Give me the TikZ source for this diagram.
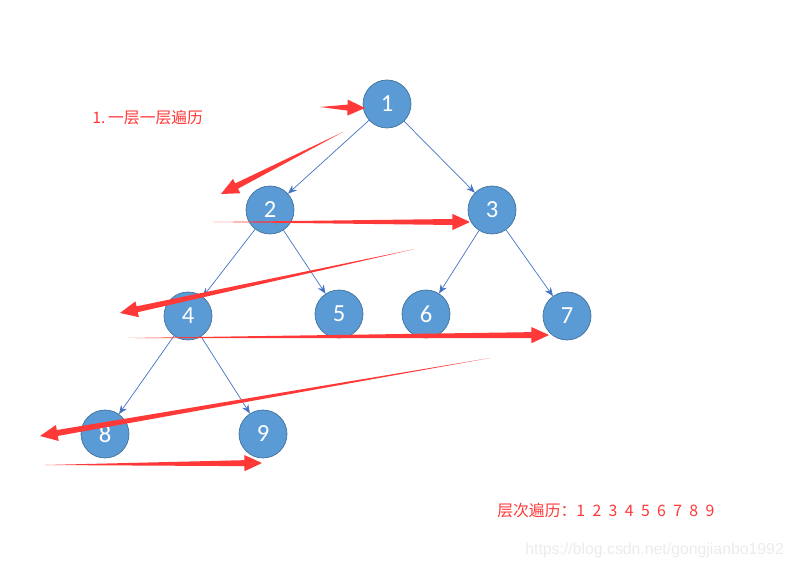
\documentclass[tikz,border=0pt]{standalone}
\usepackage{fontspec}
\setmainfont{Carlito}
\setsansfont{Liberation Sans}
\newfontfamily\cjk{Noto Sans CJK SC}
\usetikzlibrary{calc,arrows.meta}
\definecolor{noeud}{RGB}{91,155,213}
\definecolor{bord}{RGB}{65,113,156}
\definecolor{lien}{RGB}{68,114,196}
\definecolor{rouge}{RGB}{255,56,56}
% grosse fleche rouge effilee : queue, pointe
\newcommand{\fleche}[2]{%
\fill [rouge] (#1) -- ($(#2)!10pt!(#1)!1.7pt!90:(#2)$) -- ($(#2)!10pt!(#1)!4.6pt!90:(#2)$) -- (#2)
 -- ($(#2)!10pt!(#1)!4.6pt!-90:(#2)$) -- ($(#2)!10pt!(#1)!1.7pt!-90:(#2)$) -- cycle;}

\begin{document}
\begin{tikzpicture}[x=0.02cm,y=-0.02cm,
  noeudarbre/.style={circle,fill=noeud,draw=bord,minimum size=0.96cm,inner sep=0pt,
    text=white,font=\fontsize{14}{16}\selectfont},
  lienarbre/.style={lien,thin,-{Stealth[length=5pt,width=4pt]}}]
\useasboundingbox (0,0) rectangle (794,570);
% arbre
\node [noeudarbre] (n1) at (387,104) {1};
\node [noeudarbre] (n2) at (270,210) {2};
\node [noeudarbre] (n3) at (492,210) {3};
\node [noeudarbre] (n4) at (188,316) {4};
\node [noeudarbre] (n5) at (339,314) {5};
\node [noeudarbre] (n6) at (426,314) {6};
\node [noeudarbre] (n7) at (567,316) {7};
\node [noeudarbre] (n8) at (105,434) {8};
\node [noeudarbre] (n9) at (263,434) {9};
\draw [lienarbre] (n1) -- (n2);
\draw [lienarbre] (n1) -- (n3);
\draw [lienarbre] (n2) -- (n4);
\draw [lienarbre] (n2) -- (n5);
\draw [lienarbre] (n3) -- (n6);
\draw [lienarbre] (n3) -- (n7);
\draw [lienarbre] (n4) -- (n8);
\draw [lienarbre] (n4) -- (n9);
% parcours
\coordinate (q1) at (320,107); \coordinate (p1) at (365,108);
\coordinate (q2) at (343,132); \coordinate (p2) at (221,194);
\coordinate (q3) at (213,222); \coordinate (p3) at (470,222);
\coordinate (q4) at (415,249); \coordinate (p4) at (120,313);
\coordinate (q5) at (128,338); \coordinate (p5) at (549,335);
\coordinate (q6) at (490,358); \coordinate (p6) at (40,436);
\coordinate (q7) at (45,465); \coordinate (p7) at (262,463);
\foreach \i in {1,...,7} {\fleche{q\i}{p\i}}
% textes
\node [anchor=west,text=rouge,inner sep=0pt,font=\cjk\fontsize{9}{11}\selectfont] (titre) at (92,118) {1.\hspace{1.5pt}一层一层遍历};
\node [anchor=west,text=rouge,inner sep=0pt,font=\cjk\fontsize{9}{11}\selectfont] (ordre) at (497,511) {层次遍历：1\hspace{4.2pt}2\hspace{4.2pt}3\hspace{4.2pt}4\hspace{4.2pt}5\hspace{4.2pt}6\hspace{4.2pt}7\hspace{4.2pt}8\hspace{4.2pt}9};
\node [anchor=west,text=black!8,inner sep=0pt,font=\sffamily\fontsize{9}{11}\selectfont] (url) at (525,550) {https://blog.csdn.net/gongjianbo1992};
\end{tikzpicture}
\end{document}
